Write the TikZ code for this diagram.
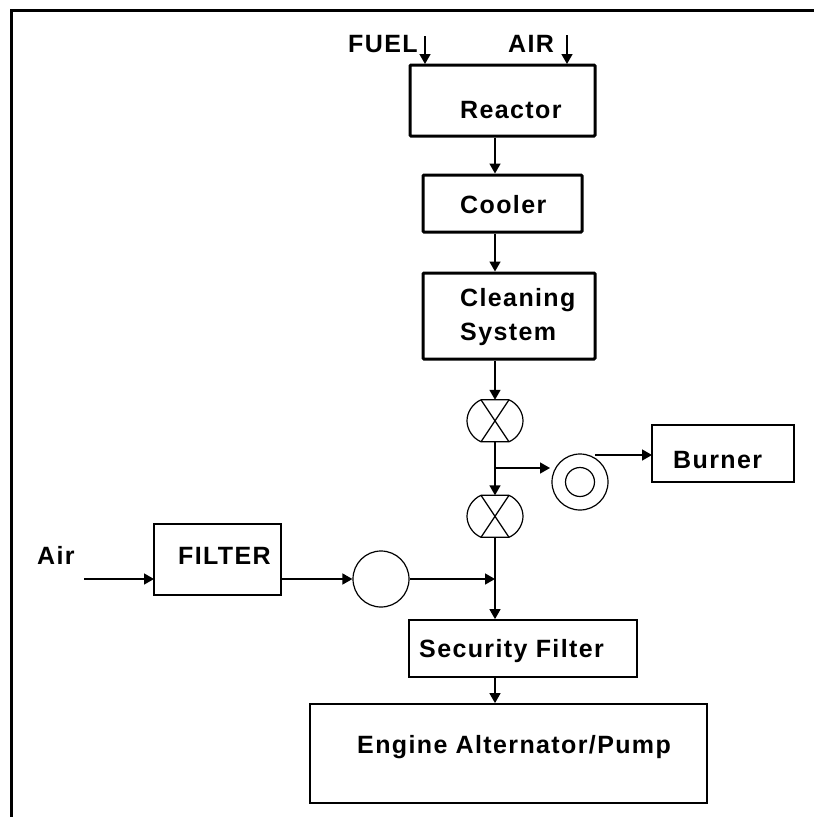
\documentclass[tikz,border=0pt]{standalone}
\usepackage{fontspec}
\setmainfont[LetterSpace=5.5]{Liberation Sans}
\usetikzlibrary{arrows.meta}
\tikzset{
    heavybox/.style={
        draw, line width=3pt, rounded corners=1pt, inner sep=0pt
    },
    lightbox/.style={
        draw, line width=1.8pt, inner sep=0pt
    },
    lbl/.style={
        font=\fontsize{25}{34}\selectfont\bfseries, align=left, inner sep=0pt
    },
    wheel/.style={
        circle, draw, line width=1.2pt, minimum size=56pt, inner sep=0pt
    },
    hub/.style={
        circle, draw, line width=1.2pt, minimum size=29pt, inner sep=0pt
    },
    valve/.style={
        minimum width=56pt, minimum height=42pt, inner sep=0pt
    },
    flow/.style={
        -{Triangle[length=10pt,width=11pt]}, line width=1.6pt
    }
}
\begin{document}
\begin{tikzpicture}[x=1pt, y=-1pt]
    \useasboundingbox (0,0) rectangle (814,817);
    % outer frame
    \coordinate (framea) at (11,817);
    \coordinate (frameb) at (11,10);
    \coordinate (framec) at (814,10);
    \draw[line width=3pt] (framea) -- (frameb) -- (framec);

    % boxes
    \node[heavybox, minimum width=185pt, minimum height=71pt] (reactor) at (502.5,100.5) {};
    \node[heavybox, minimum width=159pt, minimum height=57pt] (cooler) at (502.5,203.5) {};
    \node[heavybox, minimum width=172pt, minimum height=86pt] (cleaning) at (509,316) {};
    \node[lightbox, minimum width=142pt, minimum height=57pt] (burner) at (723,453.5) {};
    \node[lightbox, minimum width=127pt, minimum height=71pt] (filter) at (217.5,559.5) {};
    \node[lightbox, minimum width=228pt, minimum height=57pt] (security) at (523,648.5) {};
    \node[lightbox, minimum width=397pt, minimum height=99pt] (engine) at (508.5,753.5) {};

    % labels
    \node[lbl, anchor=west] (fuellbl) at (348,44) {FUEL};
    \node[lbl, anchor=west] (airlbl) at (508,44) {AIR};
    \node[lbl, anchor=west] (reactorlbl) at (460,110) {Reactor};
    \node[lbl, anchor=west] (coolerlbl) at (460,205) {Cooler};
    \node[lbl, anchor=west] (cleaninglbl) at (460,317) {Cleaning\\System};
    \node[lbl, anchor=west] (burnerlbl) at (673,460) {Burner};
    \node[lbl, anchor=west] (airinlbl) at (37,555) {Air};
    \node[lbl, anchor=west] (filterlbl) at (178,556) {FILTER};
    \node[lbl, anchor=west] (securitylbl) at (419,651) {Security Filter};
    \node[lbl, anchor=west] (enginelbl) at (357,747) {Engine Alternator/Pump};

    % valves, blowers
    \node[valve] (valvea) at (495,421) {};
    \node[valve] (valveb) at (495,516.5) {};
    \node[wheel] (blower) at (580,482) {};
    \node[hub] (blowerhub) at (580,482) {};
    \node[wheel] (aircircle) at (381,579) {};
    \foreach \v in {valvea, valveb} {
        \draw[line width=1.2pt] (\v.north) ++(-14,0) -- ++(28,0)
            .. controls +(9,4) and +(0,-8) .. ++(14,21)
            .. controls +(0,8) and +(9,-4) .. ++(-14,21) -- ++(-28,0)
            .. controls +(-9,-4) and +(0,8) .. ++(-14,-21)
            .. controls +(0,-8) and +(-9,4) .. ++(14,-21) -- cycle;
        \draw[line width=1.2pt] (\v.north) ++(-14,0) -- ++(28,42);
        \draw[line width=1.2pt] (\v.north) ++(14,0) -- ++(-28,42);
    }

    % free ends and junctions
    \coordinate (fueltop) at (425,36);
    \coordinate (airtop) at (567,35);
    \coordinate (fuelin) at (425,64);
    \coordinate (airin) at (567,64);
    \coordinate (airstart) at (84,579);
    \coordinate (filterin) at (154,579);
    \coordinate (filterout) at (281,579);
    \coordinate (teea) at (495,468);
    \coordinate (teeb) at (495,579);
    \coordinate (blowerin) at (550,468);
    \coordinate (blowerout) at (595,455);
    \coordinate (burnerin) at (652,455);

    % connectors
    \draw[flow] (fueltop) -- (fuelin);
    \draw[flow] (airtop) -- (airin);
    \draw[flow] (reactor.south -| valvea) -- (cooler.north -| valvea);
    \draw[flow] (cooler.south -| valvea) -- (cleaning.north -| valvea);
    \draw[flow] (cleaning.south -| valvea) -- (valvea.north);
    \draw[flow] (valvea.south) -- (valveb.north);
    \draw[flow] (teea) -- (blowerin);
    \draw[flow] (blowerout) -- (burnerin);
    \draw[flow] (airstart) -- (filterin);
    \draw[flow] (filterout) -- (aircircle.west);
    \draw[flow] (aircircle.east) -- (teeb);
    \draw[flow] (valveb.south) -- (security.north -| valveb);
    \draw[flow] (security.south -| valveb) -- (engine.north -| valveb);
\end{tikzpicture}
\end{document}
